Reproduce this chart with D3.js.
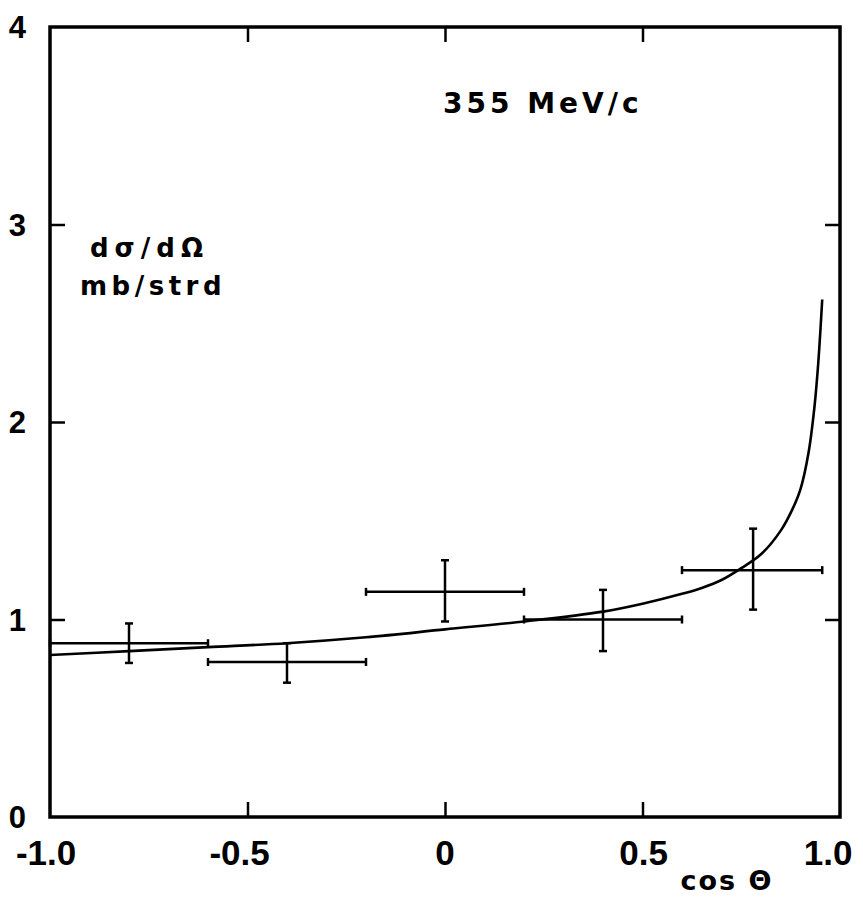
<!DOCTYPE html>
<html><head><meta charset="utf-8">
<script src="https://cdn.jsdelivr.net/npm/d3@7"></script>
<style>body{margin:0;background:#fff}svg{display:block}</style>
</head><body>
<script>
// Data
const binCenters = [-0.8, -0.4, 0.0, 0.4, 0.78];
const binLo      = [-1.0, -0.6, -0.2, 0.2, 0.60];
const binHi      = [-0.6, -0.2, 0.2, 0.6, 0.955];
const values     = [0.88, 0.785, 1.14, 1.0, 1.25];
const errLo      = [0.78, 0.68, 0.99, 0.84, 1.05];
const errHi      = [0.98, 0.88, 1.30, 1.15, 1.46];
const curveX = [-1.0,-0.8,-0.6,-0.4,-0.2,0.0,0.2,0.4,0.5,0.6,0.65,0.7,0.75,0.8,0.85,0.88,0.9,0.92,0.935,0.945,0.955];
const curveY = [0.82,0.84,0.86,0.88,0.91,0.95,0.99,1.04,1.08,1.13,1.16,1.2,1.26,1.33,1.45,1.56,1.66,1.84,2.07,2.3,2.62];
const xTicks = [-1.0,-0.5,0,0.5,1.0];
const xTickLabels = ["-1.0","-0.5","0","0.5","1.0"];
const yTicks = [0,1,2,3,4];

const W=863,H=899;
const L=50,R=840,T=27,B=817;
const svg=d3.select("body").append("svg").attr("width",W).attr("height",H);
const x=d3.scaleLinear().domain([-1,1]).range([L,R]);
const y=d3.scaleLinear().domain([0,4]).range([B,T]);

const tl=15;
const styleTicks=g=>{g.select(".domain").remove();g.selectAll("line").attr("stroke","#000").attr("stroke-width",2.5);};
svg.append("g").attr("transform",`translate(0,${B})`)
  .call(d3.axisTop(x).tickValues([-0.5,0,0.5]).tickSize(tl).tickFormat("")).call(styleTicks);
svg.append("g").attr("transform",`translate(0,${T})`)
  .call(d3.axisBottom(x).tickValues([-0.5,0,0.5]).tickSize(tl).tickFormat("")).call(styleTicks);
svg.append("g").attr("transform",`translate(${L},0)`)
  .call(d3.axisRight(y).tickValues([1,2,3]).tickSize(tl).tickFormat("")).call(styleTicks);
svg.append("g").attr("transform",`translate(${R},0)`)
  .call(d3.axisLeft(y).tickValues([1,2,3]).tickSize(tl).tickFormat("")).call(styleTicks);

// frame
svg.append("rect").attr("x",L).attr("y",T).attr("width",R-L).attr("height",B-T)
  .attr("fill","none").attr("stroke","#000").attr("stroke-width",3.5);

// tick labels
const lab=svg.append("g").attr("font-family","Liberation Sans, Arial, sans-serif").attr("font-weight","bold").attr("fill","#000");
yTicks.forEach(v=>{
  lab.append("text").attr("x",26).attr("y",y(v)).attr("dy","0.36em").attr("text-anchor","end")
    .attr("font-size",31).text(v);
});
const xLabOffset=[-0.01,-0.02,0,0.003,-0.03];
xTicks.forEach((v,i)=>{
  lab.append("text").attr("x",x(v+xLabOffset[i])).attr("y",865).attr("text-anchor","middle")
    .attr("font-size",35).text(xTickLabels[i]);
});
svg.append("text").attr("x",727).attr("y",890).attr("text-anchor","middle")
  .attr("font-family","DejaVu Sans, sans-serif").attr("font-weight","bold").attr("font-size",27)
  .attr("letter-spacing",2).text("cos Θ");

// annotations
const ann=svg.append("g").attr("font-family","DejaVu Sans, sans-serif").attr("fill","#000").attr("font-weight","bold");
ann.append("text").attr("x",443).attr("y",113).attr("font-size",28).attr("letter-spacing",4).text("355 MeV/c");
ann.append("text").attr("x",90).attr("y",257).attr("font-size",26).attr("letter-spacing",6).text("dσ/dΩ");
ann.append("text").attr("x",80).attr("y",295).attr("font-size",26).attr("letter-spacing",4.5).text("mb/strd");

// curve
const line=d3.line().x((d,i)=>x(curveX[i])).y(d=>y(d)).curve(d3.curveCatmullRom.alpha(0.5));
svg.append("path").attr("d",line(curveY)).attr("fill","none").attr("stroke","#000").attr("stroke-width",2.6);

// data points
const pts=svg.append("g").attr("stroke","#000").attr("stroke-width",2.5);
const cap=4;
values.forEach((v,i)=>{
  const cx=x(binCenters[i]), cy=y(v);
  pts.append("line").attr("x1",x(binLo[i])).attr("x2",x(binHi[i])).attr("y1",cy).attr("y2",cy);
  pts.append("line").attr("x1",cx).attr("x2",cx).attr("y1",y(errLo[i])).attr("y2",y(errHi[i]));
  pts.append("line").attr("x1",cx-cap).attr("x2",cx+cap).attr("y1",y(errLo[i])).attr("y2",y(errLo[i]));
  pts.append("line").attr("x1",cx-cap).attr("x2",cx+cap).attr("y1",y(errHi[i])).attr("y2",y(errHi[i]));
  pts.append("line").attr("x1",x(binLo[i])).attr("x2",x(binLo[i])).attr("y1",cy-cap).attr("y2",cy+cap);
  pts.append("line").attr("x1",x(binHi[i])).attr("x2",x(binHi[i])).attr("y1",cy-cap).attr("y2",cy+cap);
});
</script>
</body></html>
